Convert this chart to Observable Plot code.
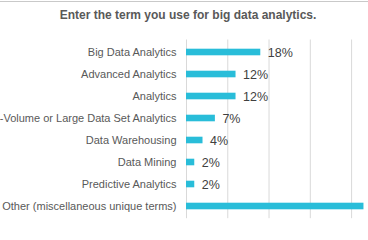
<!DOCTYPE html>
<html>
<head>
<meta charset="utf-8">
<script src="https://cdn.jsdelivr.net/npm/d3@7"></script>
<script src="https://cdn.jsdelivr.net/npm/@observablehq/plot@0.6"></script>
<style>
  html, body { margin: 0; padding: 0; background: #fff; width: 368px; height: 240px; overflow: hidden; }
  body { font-family: "Liberation Sans", Arial, sans-serif; }
  #title { margin-top: 1px; border-top: 1px solid #c9c9c9; height: 26px; line-height: 26px;
           text-align: center; font-size: 12px; font-weight: bold; color: #595959; padding-left: 8px; }
  #chart svg { display: block; overflow: visible; }
</style>
</head>
<body>
<div id="title">Enter the term you use for big data analytics.</div>
<div id="chart"></div>
<script>
const terms = [
  "Big Data Analytics",
  "Advanced Analytics",
  "Analytics",
  "High-Volume or Large Data Set Analytics",
  "Data Warehousing",
  "Data Mining",
  "Predictive Analytics",
  "Other (miscellaneous unique terms)"
];
const shares = [18, 12, 12, 7, 4, 2, 2, 43];
const xTicks = [0, 10, 20, 30, 40];

const data = terms.map((t, i) => ({term: t, value: shares[i]}));

const chart = Plot.plot({
  width: 368,
  height: 212,
  marginTop: 11.5,
  marginBottom: 21.8,
  marginLeft: 186,
  marginRight: 0,
  style: {fontFamily: "'Liberation Sans', Arial, sans-serif", background: "white", overflow: "visible"},
  x: {domain: [0, 44.1], axis: null},
  y: {domain: terms, padding: 0, axis: null},
  marks: [
    Plot.ruleX(xTicks, {stroke: "#d9d9d9", strokeWidth: 1}),
    Plot.barX(data, {x: "value", y: "term", fill: "#29bdd9", insetTop: 7.7, insetBottom: 7.7}),
    Plot.axisY({tickSize: 0, tickPadding: 10, fontSize: 11, fill: "#595959", label: null}),
    Plot.text(data, {x: "value", y: "term", text: d => d.value + "%", dx: 7, textAnchor: "start",
      fontSize: 12.5, fill: "#404040"})
  ]
});
document.getElementById("chart").appendChild(chart);
</script>
</body>
</html>
